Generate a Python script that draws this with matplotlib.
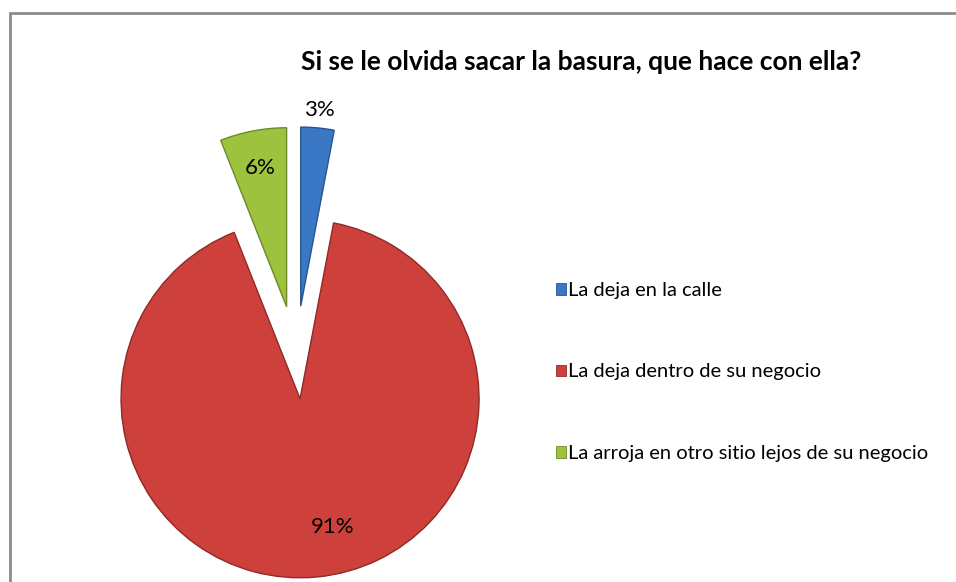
import numpy as np
import matplotlib
matplotlib.use("Agg")
import matplotlib.pyplot as plt
from matplotlib.patches import Rectangle

plt.rcParams['font.family'] = ['Lato', 'DejaVu Sans']

titulo = "Si se le olvida sacar la basura, que hace con ella?"
categorias = ["La deja en la calle",
              "La deja dentro de su negocio",
              "La arroja en otro sitio lejos de su negocio"]
valores = [3, 91, 6]
etiquetas = ["3%", "91%", "6%"]
colores = ['#3A78C6', '#CE403B', '#9CC23E']
bordes = ['#27558F', '#8E2A27', '#6E8A2A']
explode = [0.28, 0.24, 0.28]
dist_etiqueta = [1.10, 0.74, 0.79]
giro_etiqueta = [0, 9, 0]  # grados

W, H = 956, 582
fig = plt.figure(figsize=(W / 100, H / 100), dpi=100)
ax = fig.add_axes([0, 0, 1, 1])

# marco del grafico
ax.add_patch(Rectangle((10, -20), W + 20, H - 13 + 20, fill=False,
                       edgecolor='#8C8C8C', linewidth=2))

radio = 179
centro = (296, H - 356)
wedges, _ = ax.pie(valores, colors=colores,
                   explode=[e * radio for e in explode], startangle=90,
                   counterclock=False, radius=radio, center=centro,
                   wedgeprops=dict(linewidth=1.0))
ax.set_xlim(0, W)
ax.set_ylim(0, H)
ax.set_aspect('equal')
ax.axis('off')

for w, ec, et, d, g in zip(wedges, bordes, etiquetas, dist_etiqueta, giro_etiqueta):
    w.set_edgecolor(ec)
    ang = np.deg2rad((w.theta1 + w.theta2) / 2 + g)
    cx, cy = w.center
    x = cx + d * w.r * np.cos(ang)
    y = cy + d * w.r * np.sin(ang)
    ax.text(x, y, et, ha='center', va='center', fontsize=16, color='black')

ax.text(581, H - 62, titulo, ha='center', va='center', fontsize=19,
        fontweight='bold', color='black')

handles = [Rectangle((0, 0), 1, 1, facecolor=c, edgecolor=e, linewidth=0.6)
           for c, e in zip(colores, bordes)]
leg = ax.legend(handles, categorias, loc='center left',
                bbox_to_anchor=(556, H - 372), bbox_transform=ax.transData,
                frameon=False, fontsize=14.5, handlelength=0.5,
                handleheight=0.5, handletextpad=0.1, labelspacing=3.2,
                borderpad=0, borderaxespad=0)

fig.savefig("out.png", dpi=100)
